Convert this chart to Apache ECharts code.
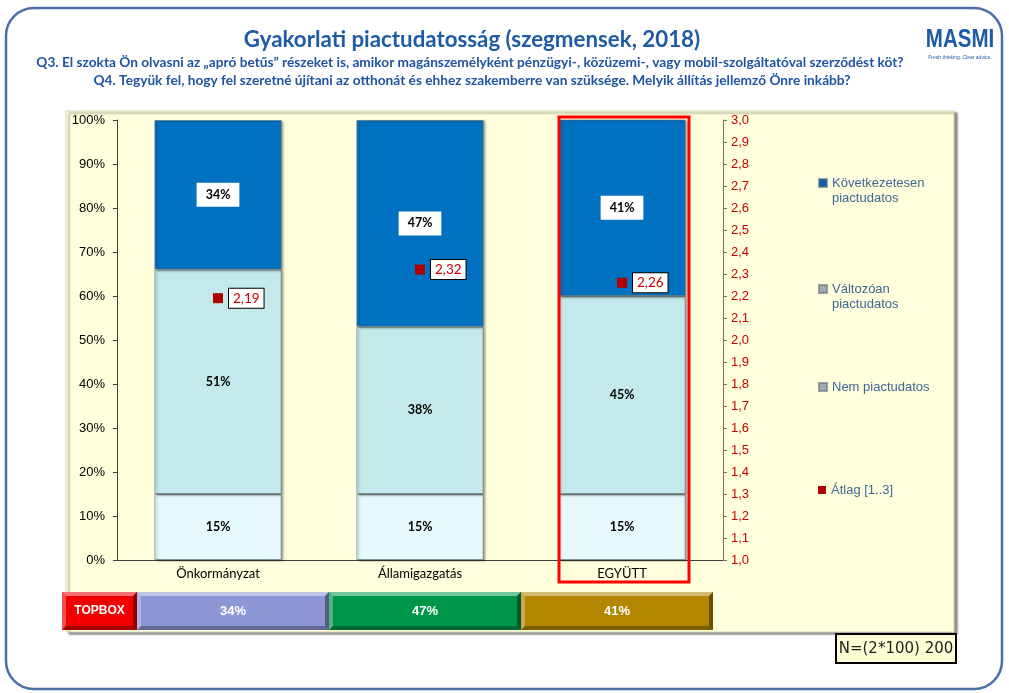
<!DOCTYPE html>
<html>
<head>
<meta charset="utf-8">
<script src="https://cdn.jsdelivr.net/npm/echarts@6/dist/echarts.min.js"></script>
<style>
html, body { margin: 0; padding: 0; background: #fff; }
#chart { width: 1009px; height: 693px; }
</style>
</head>
<body>
<div id="chart"></div>
<script>
// values
const categories = ['Önkormányzat', 'Államigazgatás', 'EGYÜTT']
const nemPiactudatos = [15, 15, 15]
const valtozoan = [51, 38, 45]
const kovetkezetesen = [34, 47, 41]
const atlag = [2.19, 2.32, 2.26]
const topbox = [34, 47, 41]
const topboxColors = ['#8E97D6', '#00964A', '#B38600']

const calibri = 'Lato, "Open Sans", sans-serif'
const arial = '"Liberation Sans", Arial, sans-serif'

const chart = echarts.init(document.getElementById('chart'))

function bevel(x, y, w, h, fill, b) {
  return [
    { type: 'rect', shape: { x, y, width: w, height: h }, style: { fill } },
    { type: 'polygon', shape: { points: [[x, y], [x + w, y], [x + w - b, y + b], [x + b, y + b]] }, style: { fill: 'rgba(255,255,255,0.45)' } },
    { type: 'polygon', shape: { points: [[x, y], [x + b, y + b], [x + b, y + h - b], [x, y + h]] }, style: { fill: 'rgba(255,255,255,0.3)' } },
    { type: 'polygon', shape: { points: [[x, y + h], [x + b, y + h - b], [x + w - b, y + h - b], [x + w, y + h]] }, style: { fill: 'rgba(0,0,0,0.3)' } },
    { type: 'polygon', shape: { points: [[x + w, y], [x + w, y + h], [x + w - b, y + h - b], [x + w - b, y + b]] }, style: { fill: 'rgba(0,0,0,0.4)' } },
  ]
}

const barShadow = {
  borderColor: 'rgba(90,110,120,0.6)',
  borderWidth: 1,
  shadowColor: 'rgba(0,0,0,0.35)',
  shadowBlur: 2,
  shadowOffsetX: 2,
  shadowOffsetY: 1,
}

const barLabel = {
  show: true,
  position: 'inside',
  formatter: '{c}%',
  color: '#000',
  fontWeight: 'bold',
  fontSize: 12.5,
  fontFamily: calibri,
}

// two-line legend texts get a blank first line so the icon sits beside the first word
function legendBox(name, top, iconColor, twoLine) {
  return {
    data: [{ name, itemStyle: { color: iconColor } }],
    left: 818,
    top,
    padding: 0,
    itemWidth: 8,
    itemHeight: 8,
    itemGap: 0,
    icon: 'rect',
    selectedMode: false,
    formatter: n => twoLine ? ' \n' + n.replace(' ', '\n') : n,
    textStyle: {
      color: '#3F6795',
      fontSize: 13,
      fontFamily: arial,
      lineHeight: 15,
    },
  }
}

chart.setOption({
  animation: false,
  legend: [
    legendBox('Következetesen piactudatos', 160.5, '#1060B0', true),
    legendBox('Változóan piactudatos', 266.5, '#A4AAB2', true),
    legendBox('Nem piactudatos', 379.5, '#A4AAB2', false),
    legendBox('Átlag [1..3]', 482.5, '#B00000', false),
  ],
  grid: [
    { left: 117, right: 286, top: 120, bottom: 133 },
    { left: 137, right: 296, top: 592, height: 38 },
  ],
  xAxis: [
    {
      type: 'category',
      data: categories,
      gridIndex: 0,
      axisLine: { lineStyle: { color: '#404040', width: 1 } },
      axisTick: { show: false },
      axisLabel: { color: '#000', fontSize: 13, fontFamily: calibri, margin: 7 },
    },
    { type: 'category', data: categories, gridIndex: 1, show: false },
  ],
  yAxis: [
    {
      type: 'value',
      gridIndex: 0,
      min: 0,
      max: 100,
      interval: 10,
      axisLine: { show: true, lineStyle: { color: '#404040' } },
      axisTick: { show: true, length: 4, lineStyle: { color: '#404040' } },
      axisLabel: { formatter: '{value}%', color: '#000', fontSize: 13, fontFamily: arial, margin: 12 },
      splitLine: { show: false },
    },
    {
      type: 'value',
      gridIndex: 0,
      position: 'right',
      min: 1,
      max: 3,
      interval: 0.1,
      axisLine: { show: true, lineStyle: { color: '#77775A' } },
      axisTick: { show: true, length: 4, lineStyle: { color: '#77775A' } },
      axisLabel: {
        formatter: v => v.toFixed(1).replace('.', ','),
        color: '#CC0000',
        fontSize: 13,
        fontFamily: arial,
        margin: 8,
      },
      splitLine: { show: false },
    },
    { type: 'category', data: ['TOPBOX'], gridIndex: 1, show: false },
  ],
  series: [
    {
      name: 'Nem piactudatos',
      type: 'bar',
      stack: 'total',
      data: nemPiactudatos,
      barCategoryGap: '37%',
      itemStyle: { color: '#E6F9FD', ...barShadow },
      label: barLabel,
    },
    {
      name: 'Változóan piactudatos',
      type: 'bar',
      stack: 'total',
      data: valtozoan,
      itemStyle: { color: '#C4E9ED', ...barShadow },
      label: barLabel,
    },
    {
      name: 'Következetesen piactudatos',
      type: 'bar',
      stack: 'total',
      data: kovetkezetesen,
      itemStyle: { color: '#0070C0', ...barShadow },
      label: { ...barLabel, backgroundColor: '#fff', padding: [6, 9, 5, 9] },
    },
    {
      name: 'Átlag [1..3]',
      type: 'line',
      yAxisIndex: 1,
      data: atlag,
      symbol: 'rect',
      symbolSize: 10,
      lineStyle: { width: 0, opacity: 0 },
      itemStyle: { color: '#B00000' },
      z: 10,
      label: {
        show: true,
        position: 'right',
        distance: 6,
        formatter: p => p.value.toFixed(2).replace('.', ','),
        color: '#CC0000',
        fontSize: 13.5,
        fontFamily: calibri,
        backgroundColor: '#fff',
        borderColor: '#000',
        borderWidth: 1,
        padding: [3, 4, 2, 4],
      },
    },
    {
      name: 'TOPBOX',
      type: 'custom',
      xAxisIndex: 1,
      yAxisIndex: 2,
      data: topbox.map((v, i) => [i, 0, v]),
      encode: { x: 0, y: 1 },
      renderItem(params, api) {
        const c = api.coord([api.value(0), api.value(1)])
        const s = api.size([1, 1])
        const x = c[0] - s[0] / 2
        const y = c[1] - s[1] / 2
        return {
          type: 'group',
          children: [
            ...bevel(x, y, s[0], s[1], topboxColors[params.dataIndex], 4),
            {
              type: 'text',
              style: {
                text: api.value(2) + '%',
                x: c[0],
                y: c[1],
                align: 'center',
                verticalAlign: 'middle',
                fill: '#fff',
                font: 'bold 13px ' + arial,
              },
            },
          ],
        }
      },
    },
  ],
  graphic: [
    {
      type: 'rect',
      z: -10,
      shape: { x: 6, y: 8, width: 996, height: 681, r: 28 },
      style: { fill: '#fff', stroke: '#4A6FA5', lineWidth: 2.5 },
    },
    {
      type: 'rect',
      z: -5,
      shape: { x: 66, y: 111, width: 888, height: 521 },
      style: {
        fill: '#FFFFDD',
        stroke: '#D8D8B8',
        lineWidth: 1,
        shadowColor: 'rgba(0,0,0,0.45)',
        shadowBlur: 2,
        shadowOffsetX: 3,
        shadowOffsetY: 2,
      },
    },
    {
      type: 'text',
      style: {
        text: 'Gyakorlati piactudatosság (szegmensek, 2018)',
        x: 472, y: 40,
        align: 'center', verticalAlign: 'middle',
        fill: '#1F5AA6',
        font: 'bold 22.3px ' + calibri,
      },
    },
    {
      type: 'text',
      style: {
        text: 'Q3. El szokta Ön olvasni az „apró betűs” részeket is, amikor magánszemélyként pénzügyi-, közüzemi-, vagy mobil-szolgáltatóval szerződést köt?',
        x: 470, y: 63,
        align: 'center', verticalAlign: 'middle',
        fill: '#1F55A0',
        font: 'bold 13.7px ' + calibri,
      },
    },
    {
      type: 'text',
      style: {
        text: 'Q4. Tegyük fel, hogy fel szeretné újítani az otthonát és ehhez szakemberre van szüksége. Melyik állítás jellemző Önre inkább?',
        x: 472, y: 81,
        align: 'center', verticalAlign: 'middle',
        fill: '#1F55A0',
        font: 'bold 13.7px ' + calibri,
      },
    },
    {
      type: 'text',
      x: 960, y: 40,
      scaleX: 0.82,
      style: {
        text: 'MASMI',
        x: 0, y: 0,
        align: 'center', verticalAlign: 'middle',
        fill: '#1F5AA6',
        font: 'bold 25px ' + arial,
      },
    },
    {
      type: 'text',
      style: {
        text: 'Fresh thinking. Clear advice.',
        x: 960, y: 58,
        align: 'center', verticalAlign: 'middle',
        fill: '#1F5AA6',
        font: '5px ' + arial,
      },
    },
    {
      type: 'rect',
      z: 50,
      shape: { x: 559, y: 117, width: 130, height: 465 },
      style: { fill: 'none', stroke: '#FF0000', lineWidth: 3 },
    },
    {
      type: 'group',
      z: 5,
      children: [
        ...bevel(62, 592, 75, 38, '#F00000', 4),
        {
          type: 'text',
          style: {
            text: 'TOPBOX',
            x: 99.5, y: 611,
            align: 'center', verticalAlign: 'middle',
            fill: '#fff',
            font: 'bold 12px ' + arial,
          },
        },
      ],
    },
    {
      type: 'rect',
      z: 5,
      shape: { x: 836, y: 634, width: 120, height: 29 },
      style: { fill: '#FFFFD6', stroke: '#000', lineWidth: 2 },
    },
    {
      type: 'text',
      z: 6,
      style: {
        text: 'N=(2*100) 200',
        x: 896, y: 649,
        align: 'center', verticalAlign: 'middle',
        fill: '#222',
        font: '15px "DejaVu Sans", sans-serif',
      },
    },
  ],
})
</script>
</body>
</html>
